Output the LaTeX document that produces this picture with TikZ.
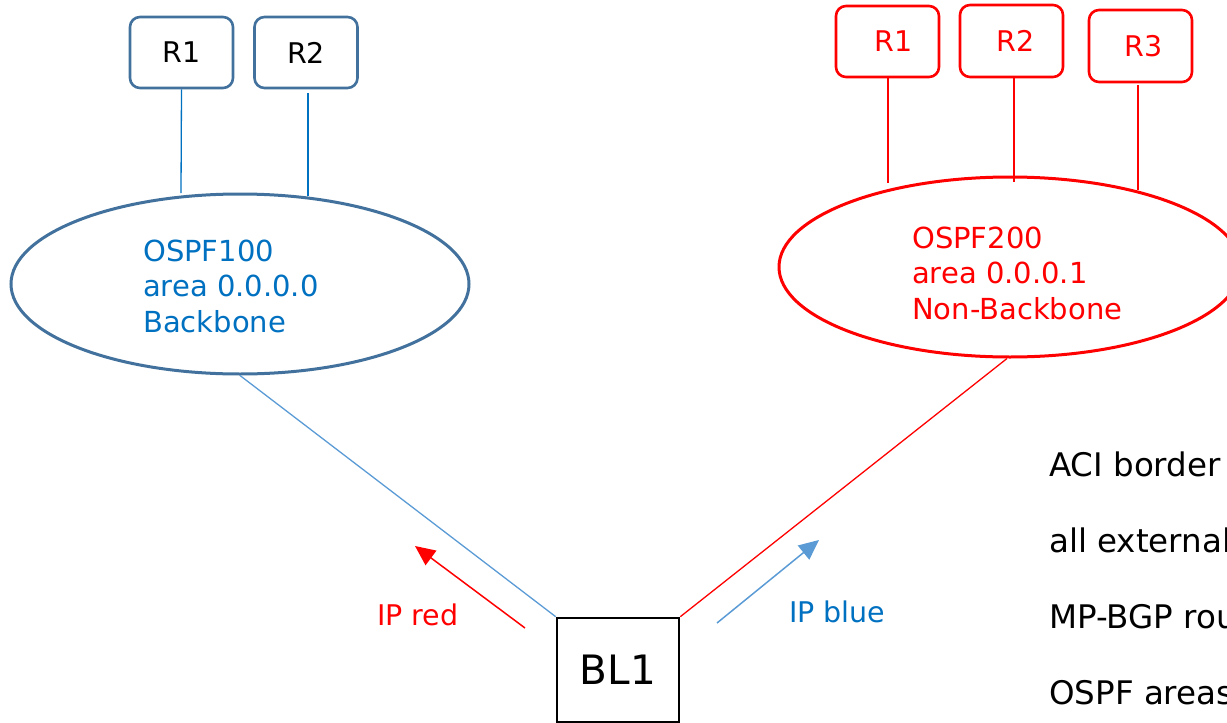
\documentclass[tikz,border=0pt]{standalone}
\usepackage{fontspec}
\setmainfont{DejaVu Sans}
\usetikzlibrary{shapes.geometric,arrows.meta}

\definecolor{boxblue}{HTML}{41719C}
\definecolor{txtblue}{HTML}{0070C0}
\definecolor{lightblue}{HTML}{5B9BD5}
\definecolor{ospfred}{HTML}{FF0000}

\tikzset{
  router/.style={draw, rounded corners=10pt, line width=2.6pt, minimum width=103pt,
    minimum height=71pt, inner sep=0pt, font=\fontsize{28.5}{34}\selectfont},
  area/.style={draw, ellipse, line width=3pt, minimum width=458pt,
    minimum height=180pt, inner sep=0pt},
  areatext/.style={anchor=base west, align=left, inner sep=0pt,
    font=\fontsize{29}{35.5}\selectfont},
  leaf/.style={draw, line width=2.6pt, minimum width=122pt, minimum height=104pt,
    inner sep=0pt, font=\fontsize{40.5}{48}\selectfont},
  link/.style={line width=1.3pt},
  flow/.style={line width=1.5pt, -{Triangle[length=20pt,width=18pt]}},
  note/.style={anchor=base west, align=left, inner sep=0pt,
    font=\fontsize{32.5}{76}\selectfont}
}

\begin{document}
\begin{tikzpicture}[x=1pt,y=-1pt]
\useasboundingbox (0,0) rectangle (1227,723);
\clip (0,0) rectangle (1227,723);

% OSPF 100 backbone area
\node[area, draw=boxblue] (ospfA) at (240,284) {};
\node[areatext, text=txtblue] (ospfAtxt) at (143,332) {OSPF100\\area 0.0.0.0\\Backbone};
\node[router, draw=boxblue] (a1) at (181.5,52.5) {R1};
\node[router, draw=boxblue] (a2) at (306,52.5) {R2};
\coordinate (a1e) at (181,193);
\coordinate (a2e) at (308,196);
\draw[link, txtblue] (a1.south) -- (a1e);
\draw[link, txtblue] ([xshift=2pt,yshift=-4pt]a2.south) -- (a2e);

% OSPF 200 non-backbone area
\node[area, draw=ospfred, minimum width=462pt] (ospfB) at (1010,267) {};
\node[areatext, text=ospfred] (ospfBtxt) at (912,319) {OSPF200\\area 0.0.0.1\\Non-Backbone};
\node[router, draw=ospfred, text=ospfred] (b1) at (887.5,41.5) {\hspace*{12pt}R1};
\node[router, draw=ospfred, text=ospfred, minimum height=72pt] (b2) at (1011.5,41) {\hspace*{8pt}R2};
\node[router, draw=ospfred, text=ospfred, minimum height=72pt] (b3) at (1140.5,46) {\hspace*{6pt}R3};
\coordinate (b1e) at (888,183);
\coordinate (b2e) at (1014,182);
\coordinate (b3e) at (1138,190);
\draw[link, ospfred] (b1.south -| b1e) -- (b1e);
\draw[link, ospfred] (b2.south -| b2e) -- (b2e);
\draw[link, ospfred] ([yshift=-2pt]b3.south -| b3e) -- (b3e);

% border leaf
\node[leaf] (bl1) at (618,670) {BL1};
\draw[link, lightblue] (ospfA.south) -- (bl1.north west);
\draw[link, ospfred] ([xshift=-3pt]ospfB.south) -- (bl1.north east);

% traffic direction arrows
\coordinate (redtail) at (525,628);
\coordinate (redtip) at (415,546);
\coordinate (bluetail) at (717,623);
\coordinate (bluetip) at (819,540);
\draw[flow, ospfred] (redtail) -- (redtip);
\draw[flow, lightblue] (bluetail) -- (bluetip);
\node[anchor=base west, inner sep=0pt, text=ospfred, font=\fontsize{28.5}{34}\selectfont] (ipred) at (377,625) {IP red};
\node[anchor=base west, inner sep=0pt, text=txtblue, font=\fontsize{28.5}{34}\selectfont] (ipblue) at (789,622) {IP blue};

% notes
\node[note] (notes) at (1049,704) {ACI border\\all external\\MP-BGP rou\\OSPF areas};
\end{tikzpicture}
\end{document}
